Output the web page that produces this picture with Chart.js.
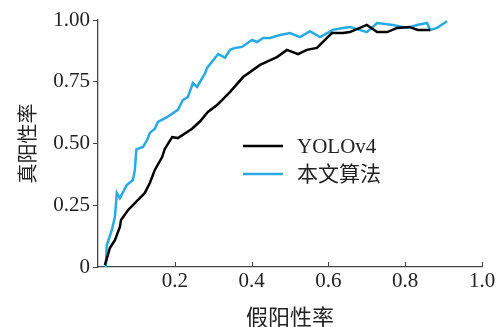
<!DOCTYPE html>
<html>
<head>
<meta charset="utf-8">
<script src="https://cdn.jsdelivr.net/npm/chart.js@4/dist/chart.umd.min.js"></script>
<style>
  html, body { margin: 0; padding: 0; background: #fff; }
  #wrap { width: 500px; height: 327px; }
</style>
</head>
<body>
<div id="wrap"><canvas id="roc" width="500" height="327"></canvas></div>
<script>
// Datos (FPR, TPR)
const seriesNames = ['YOLOv4', '本文算法'];
const seriesColors = ['#000000', '#29a9e1'];

const yoloX = [0.018, 0.031, 0.044, 0.057, 0.060, 0.078, 0.096, 0.122, 0.135, 0.148, 0.167, 0.174, 0.193, 0.208, 0.245, 0.266, 0.286, 0.310, 0.323, 0.344, 0.378, 0.422, 0.466, 0.492, 0.521, 0.544, 0.570, 0.609, 0.638, 0.656, 0.682, 0.700, 0.727, 0.753, 0.779, 0.810, 0.833, 0.865];
const yoloY = [0.008, 0.077, 0.109, 0.162, 0.190, 0.230, 0.259, 0.300, 0.340, 0.393, 0.445, 0.478, 0.526, 0.522, 0.560, 0.590, 0.628, 0.656, 0.676, 0.709, 0.769, 0.818, 0.850, 0.879, 0.862, 0.879, 0.887, 0.947, 0.947, 0.951, 0.968, 0.980, 0.951, 0.951, 0.968, 0.972, 0.960, 0.960];

const oursX = [0.020, 0.023, 0.036, 0.044, 0.049, 0.057, 0.075, 0.091, 0.096, 0.100, 0.117, 0.128, 0.135, 0.148, 0.156, 0.180, 0.208, 0.221, 0.234, 0.247, 0.258, 0.279, 0.284, 0.313, 0.331, 0.344, 0.357, 0.375, 0.401, 0.414, 0.430, 0.448, 0.474, 0.500, 0.526, 0.552, 0.578, 0.612, 0.638, 0.656, 0.700, 0.727, 0.768, 0.805, 0.831, 0.857, 0.865, 0.883, 0.909];
const oursY = [0.000, 0.089, 0.150, 0.202, 0.300, 0.279, 0.332, 0.352, 0.393, 0.476, 0.486, 0.514, 0.543, 0.560, 0.587, 0.607, 0.636, 0.676, 0.688, 0.745, 0.729, 0.785, 0.806, 0.862, 0.848, 0.879, 0.887, 0.891, 0.919, 0.911, 0.927, 0.927, 0.939, 0.947, 0.931, 0.955, 0.931, 0.960, 0.968, 0.972, 0.951, 0.988, 0.980, 0.968, 0.980, 0.988, 0.960, 0.968, 0.995];

const xTicks = [0.2, 0.4, 0.6, 0.8, 1.0];
const xTickLabels = ['0.2', '0.4', '0.6', '0.8', '1.0'];
const yTicks = [0, 0.25, 0.5, 0.75, 1.0];
const yTickLabels = ['0', '0.25', '0.50', '0.75', '1.00'];

const xTitle = '假阳性率';
const yTitle = '真阳性率';

const serif = '"Liberation Serif", "Noto Sans CJK SC", serif';
const axisColor = '#444';

function toPoints(xs, ys) {
  return xs.map((x, i) => ({ x: x, y: ys[i] }));
}

// ticks hacia dentro en el eje x + leyenda dentro del gráfico
const extras = {
  id: 'extras',
  afterDraw(chart) {
    const ctx = chart.ctx;
    const xs = chart.scales.x;
    const bottom = chart.chartArea.bottom;
    ctx.save();
    ctx.strokeStyle = axisColor;
    ctx.lineWidth = 1;
    xTicks.forEach(v => {
      const px = Math.round(xs.getPixelForValue(v)) + 0.5;
      ctx.beginPath();
      ctx.moveTo(px, bottom);
      ctx.lineTo(px, bottom - 5);
      ctx.stroke();
    });

    // leyenda
    const lx = 243, ly = [146, 174];
    ctx.textBaseline = 'middle';
    ctx.font = '21px ' + serif;
    seriesNames.forEach((name, i) => {
      ctx.strokeStyle = seriesColors[i];
      ctx.lineWidth = 2.5;
      ctx.beginPath();
      ctx.moveTo(lx, ly[i]);
      ctx.lineTo(lx + 40, ly[i]);
      ctx.stroke();
      ctx.fillStyle = '#222';
      ctx.fillText(name, lx + 54, ly[i] + 1);
    });
    ctx.restore();
  }
};

new Chart(document.getElementById('roc'), {
  type: 'scatter',
  data: {
    datasets: [
      {
        label: seriesNames[0],
        data: toPoints(yoloX, yoloY),
        showLine: true,
        borderColor: seriesColors[0],
        borderWidth: 2.5,
        pointRadius: 0,
        tension: 0
      },
      {
        label: seriesNames[1],
        data: toPoints(oursX, oursY),
        showLine: true,
        borderColor: seriesColors[1],
        borderWidth: 2.5,
        pointRadius: 0,
        tension: 0
      }
    ]
  },
  options: {
    responsive: false,
    animation: false,
    layout: { padding: { top: 20, right: 18, left: 18, bottom: 0 } },
    plugins: {
      legend: { display: false },
      tooltip: { enabled: false }
    },
    scales: {
      x: {
        type: 'linear',
        min: 0,
        max: 1,
        afterBuildTicks: s => { s.ticks = xTicks.map(v => ({ value: v })); },
        afterFit: s => { s.height = 60; },
        ticks: {
          callback: (v) => xTickLabels[xTicks.indexOf(v)] ?? '',
          color: '#222',
          font: { family: serif, size: 21 },
          padding: 2,
          maxRotation: 0
        },
        grid: { display: false, drawTicks: false },
        border: { color: axisColor, width: 1.3 },
        title: {
          display: true,
          text: xTitle,
          color: '#222',
          font: { family: serif, size: 22 },
          padding: { top: 2, bottom: -5 }
        }
      },
      y: {
        type: 'linear',
        min: 0,
        max: 1,
        afterBuildTicks: s => { s.ticks = yTicks.map(v => ({ value: v })); },
        afterFit: s => { s.width = 80; },
        ticks: {
          callback: (v) => yTickLabels[yTicks.indexOf(v)] ?? '',
          color: '#222',
          font: { family: serif, size: 21 },
          padding: 3
        },
        grid: { display: true, drawOnChartArea: false, drawTicks: true, tickLength: 5, color: axisColor },
        border: { color: axisColor, width: 1.3 },
        title: {
          display: true,
          text: yTitle,
          color: '#222',
          font: { family: serif, size: 20 },
          padding: { top: 0, bottom: 6 }
        }
      }
    }
  },
  plugins: [extras]
});
</script>
</body>
</html>
